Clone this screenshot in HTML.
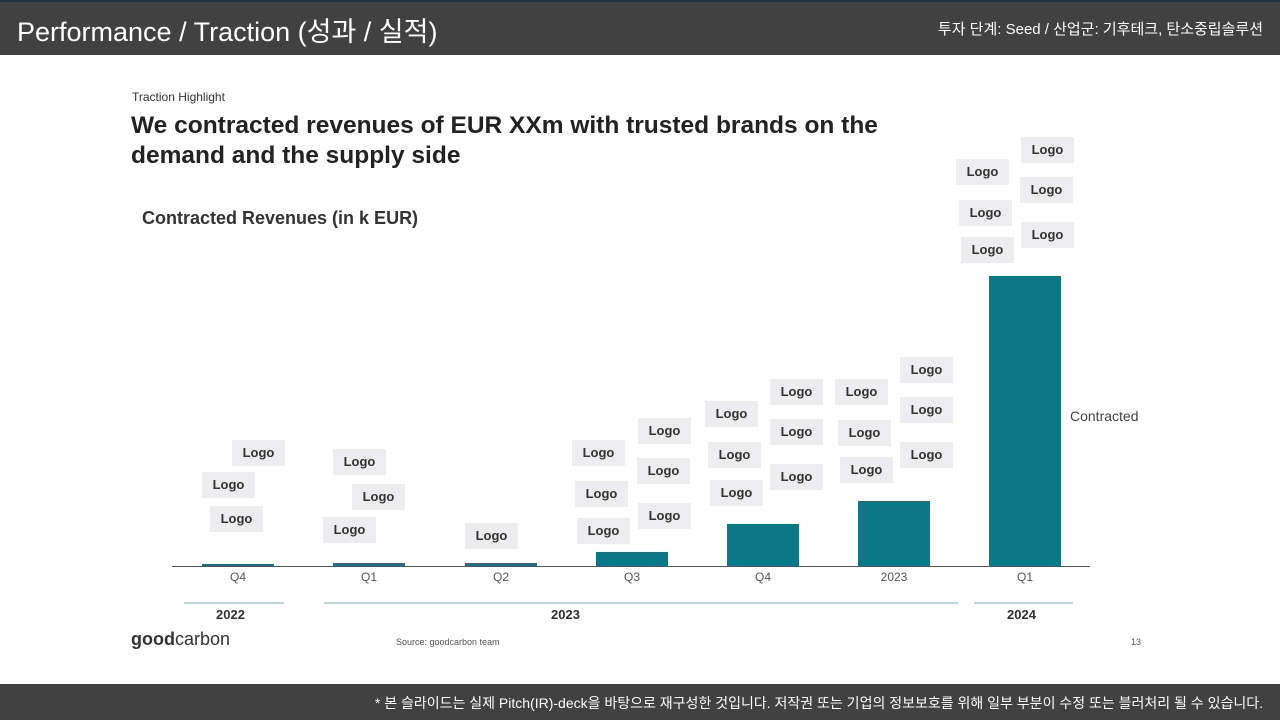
<!DOCTYPE html><html><head><meta charset="utf-8"><style>
body{margin:0;width:1280px;height:720px;position:relative;background:#fff;font-family:"Liberation Sans","Noto Sans CJK KR",sans-serif;overflow:hidden}
.hd{position:absolute;left:0;top:0;width:1280px;height:55px;background:#414141;border-top:2px solid #1d3340;box-sizing:border-box}
.ft{position:absolute;left:0;top:684px;width:1280px;height:36px;background:#414141}
.a{position:absolute;white-space:nowrap}
.l{position:absolute;width:53px;height:26px;background:#ededef;font-size:13px;font-weight:bold;color:#333;text-align:center;line-height:26px}
.b{position:absolute;background:#0c7887;width:72px}
.q{position:absolute;top:570px;font-size:12px;color:#555;width:72px;text-align:center}
.yl{position:absolute;top:602px;height:2px;background:#bcd7dc}
.y{position:absolute;top:607px;font-size:13px;font-weight:bold;color:#333}
</style></head><body>
<div class="hd"></div>
<div class="a" style="left:17px;top:10px;font-size:27px;color:#fff">Performance / Traction (성과 / 실적)</div>
<div class="a" style="right:17px;top:18px;font-size:15px;color:#fff">투자 단계: Seed / 산업군: 기후테크, 탄소중립솔루션</div>
<div class="a" style="left:132px;top:90px;font-size:12px;color:#333">Traction Highlight</div>
<div class="a" style="left:131px;top:111px;font-size:24.5px;font-weight:bold;color:#222;line-height:30px">We contracted revenues of EUR XXm with trusted brands on the<br>demand and the supply side</div>
<div class="a" style="left:142px;top:208px;font-size:18px;font-weight:bold;color:#333">Contracted Revenues (in k EUR)</div>
<div class="l" style="left:232px;top:440px">Logo</div><div class="l" style="left:202px;top:472px">Logo</div><div class="l" style="left:210px;top:506px">Logo</div>
<div class="l" style="left:333px;top:449px">Logo</div><div class="l" style="left:352px;top:484px">Logo</div><div class="l" style="left:323px;top:517px">Logo</div>
<div class="l" style="left:465px;top:523px">Logo</div>
<div class="l" style="left:572px;top:440px">Logo</div><div class="l" style="left:575px;top:481px">Logo</div><div class="l" style="left:577px;top:518px">Logo</div>
<div class="l" style="left:638px;top:418px">Logo</div><div class="l" style="left:637px;top:458px">Logo</div><div class="l" style="left:638px;top:503px">Logo</div>
<div class="l" style="left:705px;top:401px">Logo</div><div class="l" style="left:708px;top:442px">Logo</div><div class="l" style="left:710px;top:480px">Logo</div>
<div class="l" style="left:770px;top:379px">Logo</div><div class="l" style="left:770px;top:419px">Logo</div><div class="l" style="left:770px;top:464px">Logo</div>
<div class="l" style="left:835px;top:379px">Logo</div><div class="l" style="left:838px;top:420px">Logo</div><div class="l" style="left:840px;top:457px">Logo</div>
<div class="l" style="left:900px;top:357px">Logo</div><div class="l" style="left:900px;top:397px">Logo</div><div class="l" style="left:900px;top:442px">Logo</div>
<div class="l" style="left:956px;top:159px">Logo</div><div class="l" style="left:959px;top:200px">Logo</div><div class="l" style="left:961px;top:237px">Logo</div>
<div class="l" style="left:1021px;top:137px">Logo</div><div class="l" style="left:1020px;top:177px">Logo</div><div class="l" style="left:1021px;top:222px">Logo</div>
<div class="b" style="left:202px;top:564px;height:2px"></div>
<div class="b" style="left:333px;top:563px;height:3px"></div>
<div class="b" style="left:465px;top:563px;height:3px"></div>
<div class="b" style="left:596px;top:552px;height:14px"></div>
<div class="b" style="left:727px;top:524px;height:42px"></div>
<div class="b" style="left:858px;top:501px;height:65px"></div>
<div class="b" style="left:989px;top:276px;height:290px"></div>
<div class="a" style="left:172px;top:566px;width:918px;height:1px;background:#555"></div>
<div class="q" style="left:202px">Q4</div><div class="q" style="left:333px">Q1</div><div class="q" style="left:465px">Q2</div><div class="q" style="left:596px">Q3</div><div class="q" style="left:727px">Q4</div><div class="q" style="left:858px">2023</div><div class="q" style="left:989px">Q1</div>
<div class="a" style="left:1070px;top:408px;font-size:14px;color:#444">Contracted</div>
<div class="yl" style="left:184px;width:100px"></div><div class="yl" style="left:324px;width:634px"></div><div class="yl" style="left:974px;width:99px"></div>
<div class="y" style="left:216px">2022</div><div class="y" style="left:551px">2023</div><div class="y" style="left:1007px">2024</div>
<div class="a" style="left:131px;top:629px;font-size:18px;color:#333"><b>good</b>carbon</div>
<div class="a" style="left:396px;top:637px;font-size:9px;color:#555">Source: goodcarbon team</div>
<div class="a" style="left:1131px;top:637px;font-size:9px;color:#555">13</div>
<div class="ft"></div>
<div class="a" style="right:17px;top:693px;font-size:14px;color:#fff">* 본 슬라이드는 실제 Pitch(IR)-deck을 바탕으로 재구성한 것입니다. 저작권 또는 기업의 정보보호를 위해 일부 부분이 수정 또는 블러처리 될 수 있습니다.</div>
</body></html>
